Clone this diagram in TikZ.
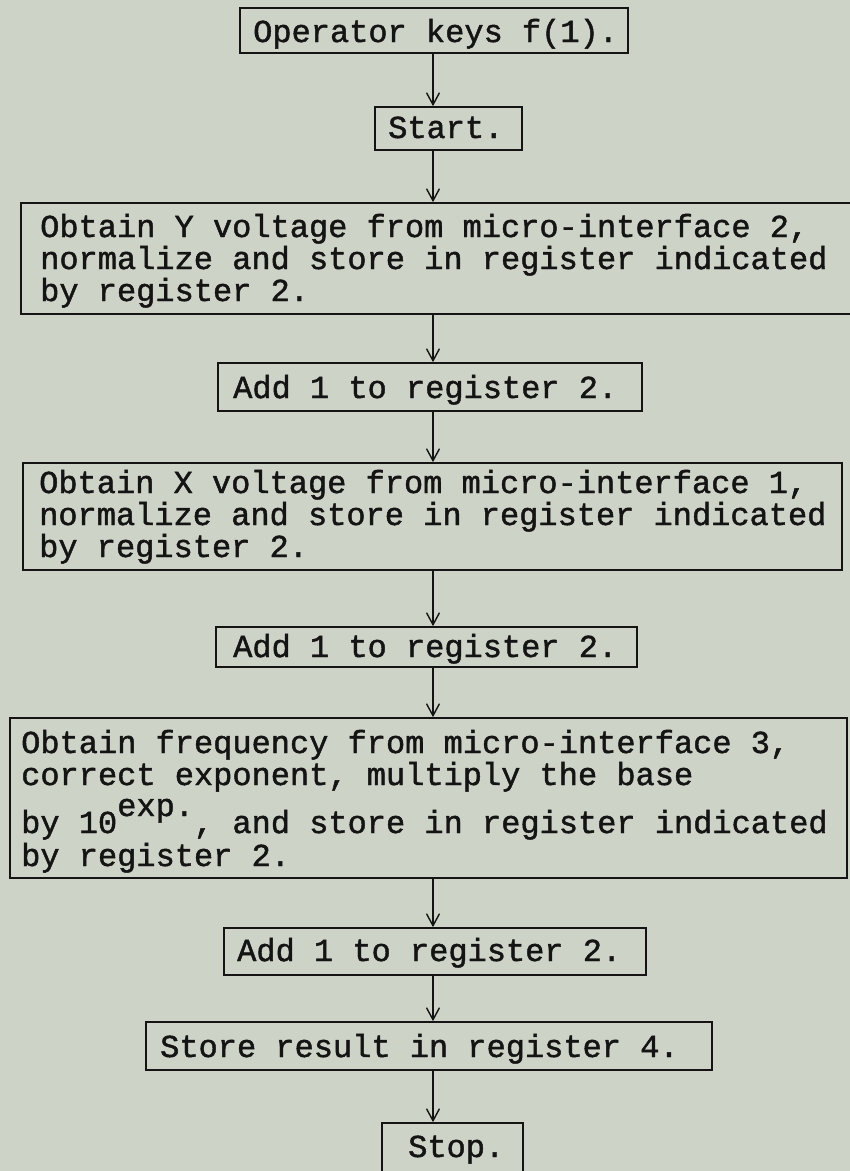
\documentclass[tikz,border=0pt]{standalone}
\usepackage{fontspec}
\newfontfamily\tw{Liberation Mono}[FakeBold=1.4]
\usetikzlibrary{arrows.meta,fit}
\definecolor{paper}{RGB}{205,211,199}
\definecolor{ink}{RGB}{20,20,20}
\tikzset{
  box/.style={draw=ink, line width=1.7pt, inner sep=0pt},
  txt/.style={anchor=base west, inner sep=0pt, text=ink,
              font=\tw\fontsize{32}{32}\selectfont},
  flow/.style={draw=ink, line width=1.5pt,
               -{Straight Barb[length=12pt,width=13pt,line width=1.4pt]}},
}
\begin{document}
\begin{tikzpicture}[x=1pt,y=-1pt]
\useasboundingbox (0,0) rectangle (850,1171);
\fill[paper] (0,0) rectangle (850,1171);
\clip (0,0) rectangle (850,1171);

% axis of the flow
\coordinate (ax) at (433,0);

% boxes
\node[box, fit={(240,8) (628,53)}]      (b1) {};
\node[box, fit={(375,107) (522,150)}]   (b2) {};
\node[box, fit={(21,203) (858,314)}]    (b3) {};
\node[box, fit={(218,363) (642,411)}]   (b4) {};
\node[box, fit={(23,463) (842,570)}]    (b5) {};
\node[box, fit={(216,627) (637,667)}]   (b6) {};
\node[box, fit={(10,718) (847,878)}]    (b7) {};
\node[box, fit={(224,928) (646,975)}]   (b8) {};
\node[box, fit={(146,1022) (712,1070)}] (b9) {};
\node[box, fit={(382,1123) (523,1195)}] (b10) {};

% texts
\node[txt] (t1) at (253,42) {Operator keys f(1).};
\node[txt] (t2) at (388,138) {Start.};

\node[txt] (t3a) at (40,237) {Obtain Y voltage from micro-interface 2,};
\node[txt] (t3b) at (40,269) {normalize and store in register indicated};
\node[txt] (t3c) at (40,301) {by register 2.};

\node[txt] (t4) at (233,398) {Add 1 to register 2.};

\node[txt] (t5a) at (39,493) {Obtain X voltage from micro-interface 1,};
\node[txt] (t5b) at (39,525) {normalize and store in register indicated};
\node[txt] (t5c) at (39,557) {by register 2.};

\node[txt] (t6) at (233,657) {Add 1 to register 2.};

\node[txt] (t7a) at (21,753) {Obtain frequency from micro-interface 3,};
\node[txt] (t7b) at (21,785) {correct exponent, multiply the base};
\node[txt] (t7c) at (21,833) {by 10\raisebox{17pt}{exp.}, and store in register indicated};
\node[txt] (t7d) at (21,866) {by register 2.};

\node[txt] (t8) at (237,961) {Add 1 to register 2.};
\node[txt] (t9) at (160,1057) {Store result in register 4.};
\node[txt] (t10) at (408,1157) {Stop.};

% connectors
\draw[flow] (b1.south -| ax) -- (b2.north -| ax);
\draw[flow] (b2.south -| ax) -- (b3.north -| ax);
\draw[flow] (b3.south -| ax) -- (b4.north -| ax);
\draw[flow] (b4.south -| ax) -- (b5.north -| ax);
\draw[flow] (b5.south -| ax) -- (b6.north -| ax);
\draw[flow] (b6.south -| ax) -- (b7.north -| ax);
\draw[flow] (b7.south -| ax) -- (b8.north -| ax);
\draw[flow] (b8.south -| ax) -- (b9.north -| ax);
\draw[flow] (b9.south -| ax) -- (b10.north -| ax);
\end{tikzpicture}
\end{document}
